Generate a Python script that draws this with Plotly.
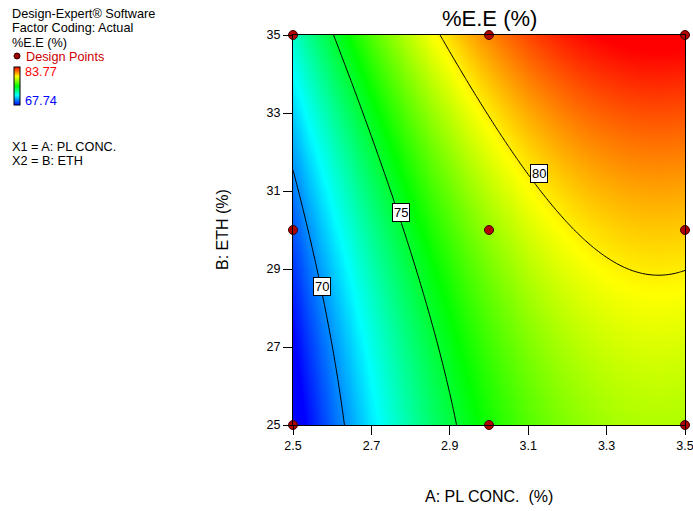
import numpy as np
import plotly.graph_objects as go

# Fitted quadratic model (coded factors A, B in [-1, 1])
coef_names = ["Intercept", "A", "B", "AB", "A^2", "B^2"]
coef_values = [78.13, 5.74, 2.80, 0.0, -3.32, 0.71]

# Factor ranges (actual units)
x_range = [2.5, 3.5]     # A: PL CONC. (%)
y_range = [25.0, 35.0]   # B: ETH (%)

# Design points
design_x = [2.5, 2.5, 2.5, 3.0, 3.0, 3.0, 3.5, 3.5, 3.5]
design_y = [25, 30, 35, 25, 30, 35, 25, 30, 35]

# Response colour range
z_min, z_max = 67.74, 83.77
contour_levels = [70, 75, 80]
label_pos_x = [2.574, 2.776, 3.128]
label_pos_y = [28.56, 30.44, 31.44]

x_ticks = [2.5, 2.7, 2.9, 3.1, 3.3, 3.5]
y_ticks = [25, 27, 29, 31, 33, 35]

# plot area in pixels
L, R, T, Bt = 293, 685, 35, 425
W, H = R - L, Bt - T

def px(x):
    return (x - L) / W

def py(y):
    return (Bt - y) / H

xs = np.linspace(x_range[0], x_range[1], 121)
ys = np.linspace(y_range[0], y_range[1], 121)
X, Y = np.meshgrid(xs, ys)
A = (X - 3.0) / 0.5
B = (Y - 30.0) / 5.0
c = dict(zip(coef_names, coef_values))
Z = (c["Intercept"] + c["A"] * A + c["B"] * B + c["AB"] * A * B
     + c["A^2"] * A ** 2 + c["B^2"] * B ** 2)

cscale = [[0, "rgb(0,0,255)"], [0.25, "rgb(0,255,255)"], [0.5, "rgb(0,255,0)"],
          [0.75, "rgb(255,255,0)"], [1, "rgb(255,0,0)"]]

FONT = "Liberation Sans, Arial"

fig = go.Figure()
fig.add_trace(go.Heatmap(
    x=xs, y=ys, z=Z, zmin=z_min, zmax=z_max, colorscale=cscale, zsmooth="best",
    hoverinfo="skip",
    colorbar=dict(x=px(14), xanchor="left", y=py(86), yanchor="middle",
                  thickness=6, thicknessmode="pixels", len=38, lenmode="pixels",
                  showticklabels=False, ticks="", outlinecolor="black", outlinewidth=1,
                  xpad=0, ypad=0),
))
fig.add_trace(go.Contour(
    x=xs, y=ys, z=Z, showscale=False, hoverinfo="skip",
    contours=dict(coloring="none", start=contour_levels[0], end=contour_levels[-1],
                  size=contour_levels[1] - contour_levels[0], showlabels=False),
    line=dict(color="black", width=1),
))
fig.add_trace(go.Scatter(
    x=design_x, y=design_y, mode="markers", cliponaxis=False, hoverinfo="skip",
    marker=dict(size=9, color="#b00000", line=dict(color="#400000", width=1)),
    showlegend=False,
))

for lv, lx, ly in zip(contour_levels, label_pos_x, label_pos_y):
    fig.add_annotation(x=lx, y=ly, text=str(lv), showarrow=False,
                       bgcolor="white", bordercolor="black", borderwidth=1, borderpad=1,
                       font=dict(family=FONT, size=13, color="black"))

left_font = dict(family=FONT, size=12.7, color="black")
for txt, yy in [("Design-Expert® Software", 14), ("Factor Coding: Actual", 28), ("%E.E (%)", 43)]:
    fig.add_annotation(xref="paper", yref="paper", x=px(10), y=py(yy),
                       xanchor="left", yanchor="middle", text=txt, showarrow=False, font=left_font)
fig.add_annotation(xref="paper", yref="paper", x=px(24), y=py(57),
                   xanchor="left", yanchor="middle", text="Design Points", showarrow=False,
                   font=dict(family=FONT, size=12.7, color="#cc0000"))
fig.add_shape(type="circle", xref="paper", yref="paper",
              x0=px(14), x1=px(20), y0=py(59), y1=py(53),
              fillcolor="#a00000", line=dict(color="#300000", width=1))
fig.add_annotation(xref="paper", yref="paper", x=px(23), y=py(72),
                   xanchor="left", yanchor="middle", text=f"{z_max:.2f}", showarrow=False,
                   font=dict(family=FONT, size=12.7, color="#ff0000"))
fig.add_annotation(xref="paper", yref="paper", x=px(23), y=py(101),
                   xanchor="left", yanchor="middle", text=f"{z_min:.2f}", showarrow=False,
                   font=dict(family=FONT, size=12.7, color="#0000ff"))
for txt, yy in [("X1 = A: PL CONC.", 147), ("X2 = B: ETH", 161)]:
    fig.add_annotation(xref="paper", yref="paper", x=px(10), y=py(yy),
                       xanchor="left", yanchor="middle", text=txt, showarrow=False, font=left_font)

# title and axis titles
fig.add_annotation(xref="paper", yref="paper", x=px(489), y=py(19), xanchor="center",
                   yanchor="middle", text="%E.E (%)", showarrow=False,
                   font=dict(family=FONT, size=22, color="black"))
fig.add_annotation(xref="paper", yref="paper", x=px(489), y=py(496), xanchor="center",
                   yanchor="middle", text="A: PL CONC.  (%)", showarrow=False,
                   font=dict(family=FONT, size=16, color="black"))
fig.add_annotation(xref="paper", yref="paper", x=px(222), y=py(230), xanchor="center",
                   yanchor="middle", text="B: ETH (%)", showarrow=False, textangle=-90,
                   font=dict(family=FONT, size=16, color="black"))

axis_common = dict(showline=True, linecolor="black", linewidth=1, mirror=True,
                   ticks="outside", ticklen=9, tickcolor="black", showgrid=False, zeroline=False,
                   ticklabeloverflow="allow",
                   tickfont=dict(family=FONT, size=12.5, color="black"))
fig.update_layout(
    width=693, height=511,
    margin=dict(l=L, r=693 - R, t=T, b=511 - Bt, autoexpand=False),
    paper_bgcolor="white", plot_bgcolor="white",
    showlegend=False,
    xaxis=dict(range=x_range, tickvals=x_ticks, ticktext=[f"{v:.1f}" for v in x_ticks],
               **axis_common),
    yaxis=dict(range=y_range, tickvals=y_ticks, ticktext=[str(v) for v in y_ticks],
               **axis_common),
)

fig.write_html("out.html", config={"displayModeBar": False},
               post_script="document.body.style.margin='0px';")
